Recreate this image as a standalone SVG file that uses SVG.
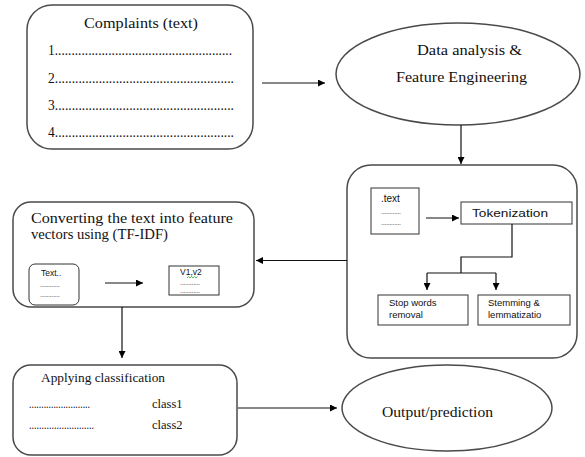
<svg xmlns="http://www.w3.org/2000/svg" width="585" height="457" viewBox="0 0 585 457">
<defs>
<marker id="ah" viewBox="0 0 10 10" refX="10" refY="5" markerWidth="7" markerHeight="7" markerUnits="userSpaceOnUse" orient="auto">
<path d="M0,0 L10,5 L0,10 z" fill="#000"/>
</marker>
<style>
.box{fill:#fff;stroke:#4a4a4a;stroke-width:1.5}
.inner{fill:#fff;stroke:#333;stroke-width:1}
.ser{font-family:"Liberation Serif","Times New Roman",serif;fill:#111}
.san{font-family:"Liberation Sans",Arial,sans-serif;fill:#111}
.dots{font-family:"Liberation Sans",Arial,sans-serif;fill:#444;font-size:7px;letter-spacing:-0.3px}
.con{fill:none;stroke:#111;stroke-width:1.2}
.arr{marker-end:url(#ah)}
</style>
</defs>
<rect width="585" height="457" fill="#fff"/>

<g id="complaints">
<rect class="box" x="27" y="5" width="226" height="144" rx="25"/>
<text class="ser" x="84" y="28" font-size="15" textLength="114" lengthAdjust="spacingAndGlyphs">Complaints  (text)</text>
<text class="ser" x="48" y="55" font-size="14" textLength="184" lengthAdjust="spacingAndGlyphs">1.....................................................</text>
<text class="ser" x="48" y="83" font-size="14" textLength="186" lengthAdjust="spacingAndGlyphs">2.....................................................</text>
<text class="ser" x="48" y="110" font-size="14" textLength="186" lengthAdjust="spacingAndGlyphs">3.....................................................</text>
<text class="ser" x="48" y="137" font-size="14" textLength="186" lengthAdjust="spacingAndGlyphs">4.....................................................</text>
</g>

<g id="data-analysis">
<ellipse class="box" cx="458" cy="74" rx="122" ry="51"/>
<text class="ser" x="417" y="55" font-size="15" textLength="105" lengthAdjust="spacingAndGlyphs">Data analysis &amp;</text>
<text class="ser" x="396" y="82" font-size="15" textLength="131" lengthAdjust="spacingAndGlyphs">Feature Engineering</text>
</g>

<g id="preprocessing">
<rect class="box" x="347" y="165" width="230" height="193" rx="24"/>
<g id="text-doc">
<rect class="inner" x="371" y="188" width="48" height="46"/>
<text class="san" x="381" y="202" font-size="10">.text</text>
<text class="dots" x="381" y="214">............</text>
<text class="dots" x="381" y="225">............</text>
</g>
<g id="tokenization">
<rect class="inner" x="461" y="202" width="111" height="22"/>
<text class="san" x="472" y="217" font-size="11.5" textLength="76" lengthAdjust="spacingAndGlyphs">Tokenization</text>
</g>
<g id="stopwords">
<rect class="inner" x="378" y="295" width="90" height="30"/>
<text class="san" x="389" y="306" font-size="9.5">Stop words</text>
<text class="san" x="389" y="318" font-size="9.5">removal</text>
</g>
<g id="stemming">
<rect class="inner" x="478" y="295" width="92" height="30"/>
<text class="san" x="488" y="306" font-size="9.5">Stemming &amp;</text>
<text class="san" x="488" y="318" font-size="9.5">lemmatizatio</text>
</g>
</g>

<g id="tfidf">
<rect class="box" x="13" y="202" width="241" height="105" rx="18"/>
<text class="ser" x="31" y="223" font-size="15" textLength="202" lengthAdjust="spacingAndGlyphs">Converting the text into feature</text>
<text class="ser" x="31" y="239" font-size="15" textLength="137" lengthAdjust="spacingAndGlyphs">vectors using (TF-IDF)</text>
<g id="text-input">
<rect class="inner" x="29" y="264" width="50" height="41" rx="6"/>
<text class="san" x="41" y="276" font-size="8.5">Text..</text>
<text class="dots" x="40" y="287">............</text>
<text class="dots" x="40" y="297">............</text>
</g>
<g id="vectors">
<rect class="inner" x="169" y="266" width="50" height="29"/>
<text class="san" x="180" y="275" font-size="8.5">V1,v2</text>
<path d="M187,278 l1.5,-1.5 l1.5,1.5 l1.5,-1.5 l1.5,1.5 l1.5,-1.5 l1.5,1.5 l1.5,-1.5" fill="none" stroke="#3a3" stroke-width="0.8"/>
<text class="dots" x="180" y="285">............</text>
<text class="dots" x="180" y="293">............</text>
</g>
</g>

<g id="classification">
<rect class="box" x="13" y="365" width="224" height="90" rx="18"/>
<text class="ser" x="41" y="382" font-size="12.5" textLength="124" lengthAdjust="spacingAndGlyphs">Applying classification</text>
<text class="ser" x="29" y="408" font-size="12" textLength="61" lengthAdjust="spacingAndGlyphs">.........................</text>
<text class="ser" x="152" y="408" font-size="12.5">class1</text>
<text class="ser" x="29" y="429" font-size="12" textLength="65" lengthAdjust="spacingAndGlyphs">..........................</text>
<text class="ser" x="152" y="429" font-size="12.5">class2</text>
</g>

<g id="output">
<ellipse class="box" cx="447" cy="408" rx="105" ry="43"/>
<text class="ser" x="382" y="417" font-size="15" textLength="111" lengthAdjust="spacingAndGlyphs">Output/prediction</text>
</g>

<g id="connectors">
<line class="con arr" x1="262" y1="83" x2="325" y2="83"/>
<line class="con arr" x1="461" y1="125" x2="461" y2="164"/>
<line class="con arr" x1="426" y1="218" x2="459" y2="218"/>
<polyline class="con" points="512,224 512,257 461,257 461,273"/>
<line class="con" x1="427" y1="273" x2="496" y2="273"/>
<line class="con arr" x1="427" y1="273" x2="427" y2="290"/>
<line class="con arr" x1="496" y1="273" x2="496" y2="290"/>
<line class="con arr" x1="347" y1="260.5" x2="256" y2="260.5"/>
<line class="con arr" x1="105" y1="283" x2="143" y2="283"/>
<line class="con arr" x1="122" y1="307" x2="122" y2="358"/>
<line class="con arr" x1="238" y1="408" x2="337" y2="408"/>
</g>
</svg>
